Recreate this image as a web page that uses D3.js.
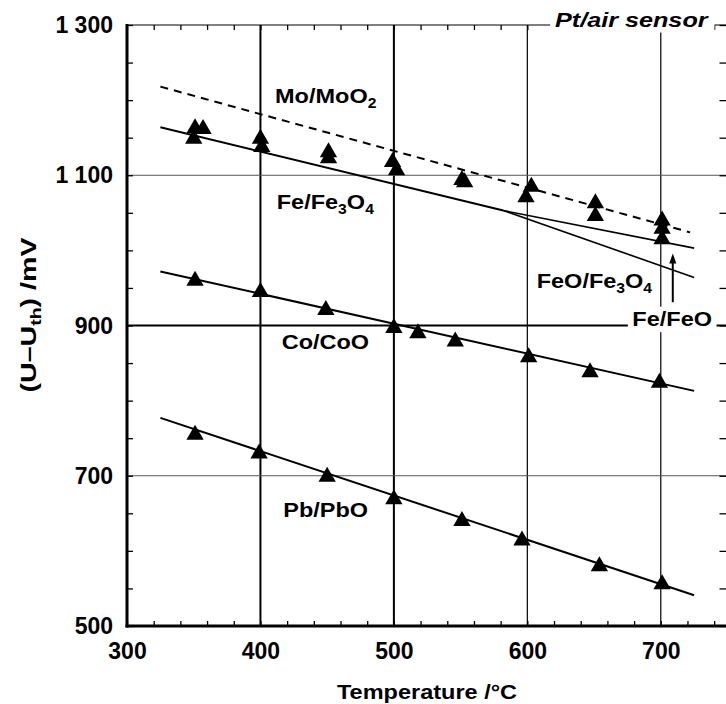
<!DOCTYPE html>
<html>
<head>
<meta charset="utf-8">
<script src="https://cdn.jsdelivr.net/npm/d3@7"></script>
<style>
  body { margin: 0; background: #fff; }
  svg { display: block; }
</style>
</head>
<body>
<svg id="chart" width="726" height="704"></svg>
<script>
var margin = { top: 25, right: 0, bottom: 78, left: 127 },
    width = 600.5,
    height = 601;

// axis ticks
var xTicks = [300, 400, 500, 600, 700];
var yTicks = [500, 700, 900, 1100, 1300];
var xMinor = d3.range(300, 751, 20);
var yMinor = d3.range(500, 1301, 50);

// measured points (temperature, mV)
var upperTemps = [351, 357, 350, 400, 401, 451, 451, 499, 502, 551, 553, 603, 599, 651, 651, 701, 701, 701];
var upperVals  = [1166, 1165, 1152, 1152, 1141, 1134, 1126, 1121, 1110, 1097, 1094, 1088, 1074, 1066, 1049, 1043, 1032, 1018];

var coTemps = [351, 400, 449, 500, 518, 546, 601, 647, 699];
var coVals  = [963, 948, 924, 900, 893, 882, 861, 841, 827];

var pbTemps = [351, 399, 450, 500, 551, 596, 654, 701];
var pbVals  = [758, 733, 702, 672, 643, 617, 583, 559];

// fitted lines, end points
var moLine     = [[325, 1218], [722, 1024]];
var feFe3o4    = [[325, 1164], [582, 1053]];
var feFeo      = [[582, 1053], [725, 1003]];
var feoFe3o4   = [[582, 1053], [725, 964]];
var coLine     = [[325, 972], [725, 813]];
var pbLine     = [[325, 777], [725, 541]];

// arrow for Fe/FeO
var arrowT = 709, arrowFrom = 931, arrowTo = 996;

var svg = d3.select("#chart");
var g = svg.append("g")
    .attr("transform", "translate(" + margin.left + "," + margin.top + ")");

var x = d3.scaleLinear().domain([300, 750]).range([0, width]);
var y = d3.scaleLinear().domain([500, 1300]).range([height, 0]);

var fontMain = "'Liberation Sans', Arial, Helvetica, sans-serif";

// grid
var vGrid = [{ v: 400, w: 2 }, { v: 500, w: 2 }, { v: 600, w: 1.2 }, { v: 700, w: 1.2 }];
g.selectAll(".vgrid").data(vGrid).enter().append("line")
    .attr("x1", d => x(d.v)).attr("x2", d => x(d.v))
    .attr("y1", 0).attr("y2", height)
    .attr("stroke", "#000").attr("stroke-width", d => d.w);

var hGrid = [{ v: 1100, w: 1, c: "#555" }, { v: 900, w: 1.8, c: "#000" }, { v: 700, w: 1, c: "#555" }];
g.selectAll(".hgrid").data(hGrid).enter().append("line")
    .attr("x1", 0).attr("x2", width)
    .attr("y1", d => y(d.v)).attr("y2", d => y(d.v))
    .attr("stroke", d => d.c).attr("stroke-width", d => d.w);

// minor ticks on all four sides
function minor(axis, tr) {
    var a = g.append("g").attr("transform", tr).call(axis);
    a.select(".domain").remove();
    a.selectAll("line").attr("stroke", "#000").attr("stroke-width", 1.3);
    a.selectAll("text").remove();
}
minor(d3.axisBottom(x).tickValues(xMinor).tickSize(-5), "translate(0," + height + ")");
minor(d3.axisTop(x).tickValues(xMinor).tickSize(-5), "translate(0,0)");
minor(d3.axisLeft(y).tickValues(yMinor).tickSize(-6), "translate(0,0)");
minor(d3.axisRight(y).tickValues(yMinor).tickSize(-8), "translate(" + width + ",0)");

// frame
g.append("line").attr("x1", 0).attr("x2", width).attr("y1", 0).attr("y2", 0)
    .attr("stroke", "#000").attr("stroke-width", 1.2);
g.append("line").attr("x1", width).attr("x2", width).attr("y1", 0).attr("y2", height)
    .attr("stroke", "#000").attr("stroke-width", 1.2);
g.append("line").attr("x1", 0).attr("x2", 0).attr("y1", -1).attr("y2", height + 1.5)
    .attr("stroke", "#000").attr("stroke-width", 3);
g.append("line").attr("x1", -1.5).attr("x2", width).attr("y1", height).attr("y2", height)
    .attr("stroke", "#000").attr("stroke-width", 3);

// tick labels
var fmt = d3.formatLocale({ decimal: ".", thousands: " ", grouping: [3], currency: ["", ""] }).format(",");

var xAx = g.append("g").attr("transform", "translate(0," + height + ")")
    .call(d3.axisBottom(x).tickValues(xTicks).tickSize(0).tickFormat(d3.format("d")));
xAx.select(".domain").remove();
xAx.selectAll("text").attr("y", 33).attr("dy", null)
    .style("font-family", fontMain).style("font-weight", "bold").style("font-size", "23px").attr("fill", "#000");

var yAx = g.append("g")
    .call(d3.axisLeft(y).tickValues(yTicks).tickSize(0).tickPadding(14).tickFormat(fmt));
yAx.select(".domain").remove();
yAx.selectAll("text").attr("dy", "0.33em")
    .style("font-family", fontMain).style("font-weight", "bold").style("font-size", "23px").attr("fill", "#000");

// fitted lines
var line = d3.line().x(d => x(d[0])).y(d => y(d[1]));
g.append("path").datum(moLine).attr("d", line).attr("fill", "none")
    .attr("stroke", "#000").attr("stroke-width", 2).attr("stroke-dasharray", "8,6");
[feFe3o4, coLine, pbLine].forEach(function (l) {
    g.append("path").datum(l).attr("d", line).attr("fill", "none")
        .attr("stroke", "#000").attr("stroke-width", 2);
});
[feFeo, feoFe3o4].forEach(function (l) {
    g.append("path").datum(l).attr("d", line).attr("fill", "none")
        .attr("stroke", "#000").attr("stroke-width", 1.6);
});

// markers
var tri = d3.symbol().type(d3.symbolTriangle).size(130);
function markers(ts, vs) {
    g.append("g").selectAll("path").data(d3.zip(ts, vs)).enter().append("path")
        .attr("d", tri)
        .attr("transform", d => "translate(" + x(d[0]) + "," + (y(d[1]) + 2.5) + ")")
        .attr("fill", "#000");
}
markers(upperTemps, upperVals);
markers(coTemps, coVals);
markers(pbTemps, pbVals);

// arrow
g.append("line").attr("x1", x(arrowT)).attr("x2", x(arrowT))
    .attr("y1", y(arrowFrom)).attr("y2", y(arrowTo) + 6)
    .attr("stroke", "#000").attr("stroke-width", 2);
g.append("path")
    .attr("d", "M" + x(arrowT) + "," + y(arrowTo) + "l-3.5,10l7,0z")
    .attr("fill", "#000");

// text labels with optional subscripts
function label(parts, tx, ty, opts) {
    opts = opts || {};
    var lg = g.append("g")
        .attr("transform", "translate(" + x(tx) + "," + y(ty) + ") scale(" + (opts.sx || 1.12) + ",1)");
    var bg = opts.bg ? lg.append("rect").attr("fill", "#fff") : null;
    var t = lg.append("text")
        .style("font-family", fontMain).style("font-weight", "bold")
        .style("font-style", opts.italic ? "italic" : "normal")
        .style("font-size", "21px").attr("fill", "#000");
    var sub = false;
    parts.forEach(function (p) {
        var isSub = p[1] === 1;
        var ts = t.append("tspan").text(p[0]);
        if (isSub && !sub) ts.attr("dy", 5).style("font-size", "14px");
        else if (isSub) ts.style("font-size", "14px");
        else if (!isSub && sub) ts.attr("dy", -5);
        sub = isSub;
    });
    if (bg) {
        var b = t.node().getBBox();
        bg.attr("x", b.x - 4).attr("y", b.y - 1).attr("width", b.width + 8).attr("height", b.height + 2);
    }
}

label([["Mo/MoO"], ["2", 1]], 410.9, 1196);
label([["Fe/Fe"], ["3", 1], ["O"], ["4", 1]], 412.2, 1054.7);
label([["FeO/Fe"], ["3", 1], ["O"], ["4", 1]], 607, 949.5);
label([["Fe/FeO"]], 678.7, 898.7, { bg: true });
label([["Co/CoO"]], 415.9, 868.7);
label([["Pb/PbO"]], 417.1, 645.5);
label([["Pt/air sensor"]], 620.7, 1297.3, { bg: true, italic: true, sx: 1.2 });

// axis titles
svg.append("text")
    .attr("transform", "translate(427,699) scale(1.12,1)")
    .attr("text-anchor", "middle")
    .style("font-family", fontMain).style("font-weight", "bold").style("font-size", "21px")
    .text("Temperature /°C");

var yt = svg.append("text")
    .attr("transform", "translate(36,315) rotate(-90) scale(1.3,1)")
    .attr("text-anchor", "middle")
    .style("font-family", fontMain).style("font-weight", "bold").style("font-size", "22px");
yt.append("tspan").text("(U–U");
yt.append("tspan").text("th").attr("dy", 5).style("font-size", "15px");
yt.append("tspan").text(") /mV").attr("dy", -5);
</script>
</body>
</html>
